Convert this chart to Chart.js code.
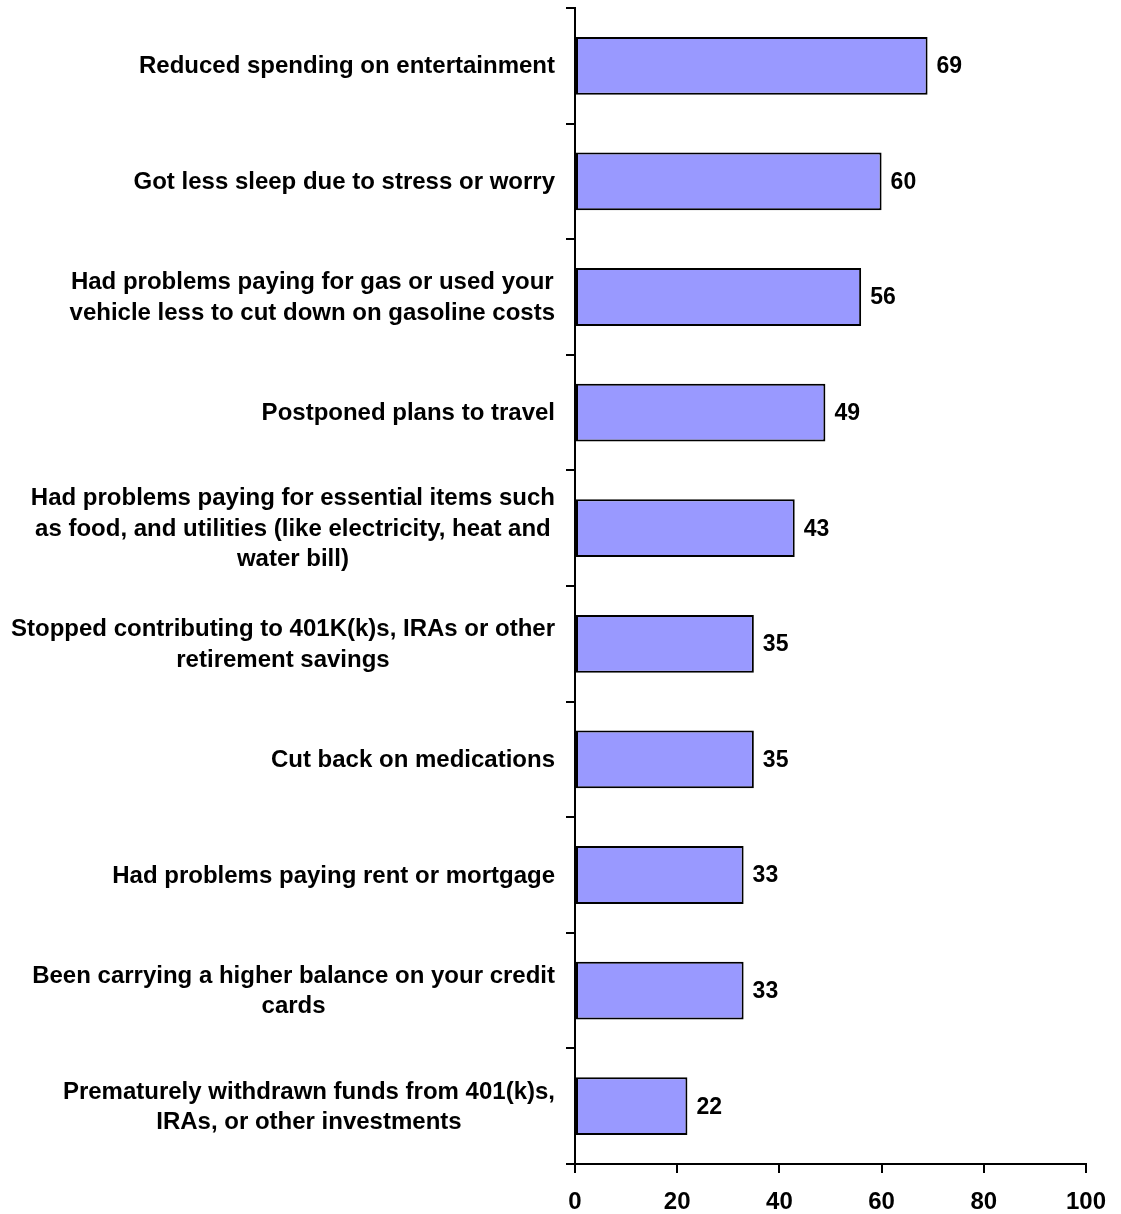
<!DOCTYPE html>
<html>
<head>
<meta charset="utf-8">
<script src="https://cdn.jsdelivr.net/npm/chart.js@4"></script>
<style>
  body { margin: 0; background: #fff; }
  #wrap { width: 1121px; height: 1214px; }
</style>
</head>
<body>
<div id="wrap"><canvas id="myChart" width="1121" height="1214"></canvas></div>
<script>
const categories = [
  ['Reduced spending on entertainment'],
  ['Got less sleep due to stress or worry'],
  ['Had problems paying for gas or used your', 'vehicle less to cut down on gasoline costs'],
  ['Postponed plans to travel'],
  ['Had problems paying for essential items such', 'as food, and utilities (like electricity, heat and', 'water bill)'],
  ['Stopped contributing to 401K(k)s, IRAs or other', 'retirement savings'],
  ['Cut back on medications'],
  ['Had problems paying rent or mortgage'],
  ['Been carrying a higher balance on your credit', 'cards'],
  ['Prematurely withdrawn funds from 401(k)s,', 'IRAs, or other investments']
];
const values = [69, 60, 56, 49, 43, 35, 35, 33, 33, 22];
const xTicks = [0, 20, 40, 60, 80, 100];

const FONT = '"Liberation Sans", Arial, sans-serif';
const boldFont = { family: FONT, size: 24, weight: 'bold' };

// category labels: each block right-aligned to the axis, lines centred inside the block
const categoryLabels = {
  id: 'categoryLabels',
  afterDraw(chart) {
    const { ctx } = chart;
    const y = chart.scales.y;
    const right = y.right - 20;
    const lineHeight = 30.5;
    ctx.save();
    ctx.font = 'bold 24px ' + FONT;
    ctx.fillStyle = '#000';
    ctx.textBaseline = 'middle';
    ctx.textAlign = 'center';
    categories.forEach((lines, i) => {
      const cy = y.getPixelForTick(i) + 1;
      const w = Math.max(...lines.map(l => ctx.measureText(l).width));
      const cx = right - w / 2;
      const top = cy - (lines.length - 1) * lineHeight / 2;
      lines.forEach((l, j) => ctx.fillText(l, cx, top + j * lineHeight));
    });
    ctx.restore();
  }
};

// value printed just past the end of each bar
const valueLabels = {
  id: 'valueLabels',
  afterDatasetsDraw(chart) {
    const { ctx } = chart;
    const meta = chart.getDatasetMeta(0);
    ctx.save();
    ctx.font = 'bold 23px ' + FONT;
    ctx.fillStyle = '#000';
    ctx.textBaseline = 'middle';
    ctx.textAlign = 'left';
    meta.data.forEach((bar, i) => {
      ctx.fillText(String(values[i]), bar.x + 9, bar.y + 1);
    });
    ctx.restore();
  }
};

const ctx = document.getElementById('myChart');

const config = {
  type: 'bar',
  data: {
    labels: categories.map(c => c.join(' ')),
    datasets: [{
      data: values,
      backgroundColor: '#9999ff',
      borderColor: '#000000',
      borderWidth: 2,
      borderSkipped: false,
      barPercentage: 0.5,
      categoryPercentage: 1.0
    }]
  },
  options: {
    indexAxis: 'y',
    responsive: false,
    animation: false,
    events: [],
    layout: {
      padding: { left: 0, right: 34, top: 8, bottom: 0 }
    },
    plugins: {
      legend: { display: false },
      tooltip: { enabled: false }
    },
    scales: {
      x: {
        min: 0,
        max: 100,
        afterBuildTicks: (scale) => {
          scale.ticks = xTicks.map(v => ({ value: v }));
        },
        border: { color: '#000', width: 2 },
        grid: {
          drawOnChartArea: false,
          drawTicks: true,
          tickLength: 9,
          color: '#000',
          lineWidth: 2
        },
        ticks: {
          color: '#000',
          font: boldFont,
          padding: 15,
          maxRotation: 0
        },
        afterFit: (scale) => { scale.height = 50; }
      },
      y: {
        border: { color: '#000', width: 2 },
        grid: {
          offset: true,
          drawOnChartArea: false,
          drawTicks: true,
          tickLength: 9,
          color: '#000',
          lineWidth: 2
        },
        ticks: { display: false },
        afterFit: (scale) => { scale.width = 575; }
      }
    }
  },
  plugins: [valueLabels, categoryLabels]
};

const myChart = new Chart(ctx, config);
</script>
</body>
</html>
